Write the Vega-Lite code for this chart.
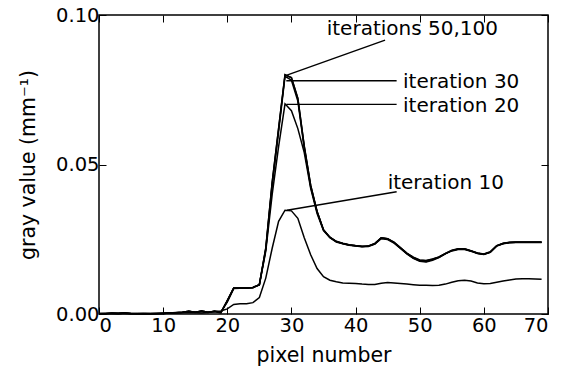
{
"$schema": "https://vega.github.io/schema/vega-lite/v6.json",
"width": 449, "height": 299,
"autosize": "none",
"padding": {"left": 99, "top": 15, "right": 22, "bottom": 53},
"background": "white",
"config": {
  "font": "DejaVu Sans",
  "view": {"stroke": "black", "strokeWidth": 1.5},
  "axis": {"grid": false, "domain": false, "tickColor": "black", "tickSize": -7, "tickWidth": 1, "labelColor": "black", "labelFont": "DejaVu Sans", "labelFontSize": 19.5, "titleFont": "DejaVu Sans", "titleFontSize": 20.5, "titleFontWeight": "normal", "titleColor": "black"}
},
"datasets": {
"curves": [
{"p":0,"v":0.0002,"it":"10"},{"p":1,"v":0.0002,"it":"10"},{"p":2,"v":0.0003,"it":"10"},{"p":3,"v":0.0003,"it":"10"},{"p":4,"v":0.0004,"it":"10"},{"p":5,"v":0.0002,"it":"10"},{"p":6,"v":0.0001,"it":"10"},{"p":7,"v":0.0001,"it":"10"},{"p":8,"v":0.0002,"it":"10"},{"p":9,"v":0.0001,"it":"10"},{"p":10,"v":0.0002,"it":"10"},{"p":11,"v":0.0003,"it":"10"},{"p":12,"v":0.0003,"it":"10"},{"p":13,"v":0.0004,"it":"10"},{"p":14,"v":0.0005,"it":"10"},{"p":15,"v":0.0004,"it":"10"},{"p":16,"v":0.0003,"it":"10"},{"p":17,"v":0.0005,"it":"10"},{"p":18,"v":0.0008,"it":"10"},{"p":19,"v":0.001,"it":"10"},{"p":20,"v":0.0017,"it":"10"},{"p":21,"v":0.0032,"it":"10"},{"p":22,"v":0.0034,"it":"10"},{"p":23,"v":0.0034,"it":"10"},{"p":24,"v":0.0038,"it":"10"},{"p":25,"v":0.0055,"it":"10"},{"p":26,"v":0.012,"it":"10"},{"p":27,"v":0.022,"it":"10"},{"p":28,"v":0.031,"it":"10"},{"p":29,"v":0.0347,"it":"10"},{"p":30,"v":0.0345,"it":"10"},{"p":31,"v":0.032,"it":"10"},{"p":32,"v":0.0255,"it":"10"},{"p":33,"v":0.0198,"it":"10"},{"p":34,"v":0.0152,"it":"10"},{"p":35,"v":0.0125,"it":"10"},{"p":36,"v":0.0113,"it":"10"},{"p":37,"v":0.0108,"it":"10"},{"p":38,"v":0.0104,"it":"10"},{"p":39,"v":0.0103,"it":"10"},{"p":40,"v":0.0102,"it":"10"},{"p":41,"v":0.01,"it":"10"},{"p":42,"v":0.0099,"it":"10"},{"p":43,"v":0.0099,"it":"10"},{"p":44,"v":0.0103,"it":"10"},{"p":45,"v":0.0105,"it":"10"},{"p":46,"v":0.0104,"it":"10"},{"p":47,"v":0.0102,"it":"10"},{"p":48,"v":0.01,"it":"10"},{"p":49,"v":0.0098,"it":"10"},{"p":50,"v":0.0096,"it":"10"},{"p":51,"v":0.0096,"it":"10"},{"p":52,"v":0.0095,"it":"10"},{"p":53,"v":0.0096,"it":"10"},{"p":54,"v":0.01,"it":"10"},{"p":55,"v":0.0106,"it":"10"},{"p":56,"v":0.0111,"it":"10"},{"p":57,"v":0.0113,"it":"10"},{"p":58,"v":0.011,"it":"10"},{"p":59,"v":0.0104,"it":"10"},{"p":60,"v":0.0101,"it":"10"},{"p":61,"v":0.0102,"it":"10"},{"p":62,"v":0.0106,"it":"10"},{"p":63,"v":0.011,"it":"10"},{"p":64,"v":0.0114,"it":"10"},{"p":65,"v":0.0117,"it":"10"},{"p":66,"v":0.0118,"it":"10"},{"p":67,"v":0.0118,"it":"10"},{"p":68,"v":0.0117,"it":"10"},{"p":69,"v":0.0116,"it":"10"},

{"p":0,"v":0.0002,"it":"20"},{"p":1,"v":0.0001,"it":"20"},{"p":2,"v":0.0003,"it":"20"},{"p":3,"v":0.0002,"it":"20"},{"p":4,"v":0.0002,"it":"20"},{"p":5,"v":0.0001,"it":"20"},{"p":6,"v":0.0002,"it":"20"},{"p":7,"v":0.0002,"it":"20"},{"p":8,"v":0.0001,"it":"20"},{"p":9,"v":0.0002,"it":"20"},{"p":10,"v":0.0003,"it":"20"},{"p":11,"v":0.0003,"it":"20"},{"p":12,"v":0.0005,"it":"20"},{"p":13,"v":0.0005,"it":"20"},{"p":14,"v":0.0008,"it":"20"},{"p":15,"v":0.0007,"it":"20"},{"p":16,"v":0.0008,"it":"20"},{"p":17,"v":0.0005,"it":"20"},{"p":18,"v":0.0009,"it":"20"},{"p":19,"v":0.0007,"it":"20"},{"p":20,"v":0.004,"it":"20"},{"p":21,"v":0.0085,"it":"20"},{"p":22,"v":0.0086,"it":"20"},{"p":23,"v":0.0086,"it":"20"},{"p":24,"v":0.0088,"it":"20"},{"p":25,"v":0.0097,"it":"20"},{"p":26,"v":0.021,"it":"20"},{"p":27,"v":0.04,"it":"20"},{"p":28,"v":0.056,"it":"20"},{"p":29,"v":0.0703,"it":"20"},{"p":30,"v":0.068,"it":"20"},{"p":31,"v":0.062,"it":"20"},{"p":32,"v":0.054,"it":"20"},{"p":33,"v":0.042,"it":"20"},{"p":34,"v":0.0336,"it":"20"},{"p":35,"v":0.0279,"it":"20"},{"p":36,"v":0.0255,"it":"20"},{"p":37,"v":0.0241,"it":"20"},{"p":38,"v":0.0235,"it":"20"},{"p":39,"v":0.023,"it":"20"},{"p":40,"v":0.0227,"it":"20"},{"p":41,"v":0.0225,"it":"20"},{"p":42,"v":0.0226,"it":"20"},{"p":43,"v":0.0234,"it":"20"},{"p":44,"v":0.0252,"it":"20"},{"p":45,"v":0.0249,"it":"20"},{"p":46,"v":0.0237,"it":"20"},{"p":47,"v":0.0219,"it":"20"},{"p":48,"v":0.0201,"it":"20"},{"p":49,"v":0.0186,"it":"20"},{"p":50,"v":0.0176,"it":"20"},{"p":51,"v":0.0174,"it":"20"},{"p":52,"v":0.018,"it":"20"},{"p":53,"v":0.0189,"it":"20"},{"p":54,"v":0.0201,"it":"20"},{"p":55,"v":0.0211,"it":"20"},{"p":56,"v":0.0216,"it":"20"},{"p":57,"v":0.0216,"it":"20"},{"p":58,"v":0.021,"it":"20"},{"p":59,"v":0.0202,"it":"20"},{"p":60,"v":0.0199,"it":"20"},{"p":61,"v":0.0206,"it":"20"},{"p":62,"v":0.0227,"it":"20"},{"p":63,"v":0.0235,"it":"20"},{"p":64,"v":0.0238,"it":"20"},{"p":65,"v":0.0239,"it":"20"},{"p":66,"v":0.0239,"it":"20"},{"p":67,"v":0.0239,"it":"20"},{"p":68,"v":0.0239,"it":"20"},{"p":69,"v":0.0239,"it":"20"},

{"p":0,"v":0.0001,"it":"30"},{"p":1,"v":0.0001,"it":"30"},{"p":2,"v":0.0002,"it":"30"},{"p":3,"v":0.0002,"it":"30"},{"p":4,"v":0.0002,"it":"30"},{"p":5,"v":0.0001,"it":"30"},{"p":6,"v":0.0002,"it":"30"},{"p":7,"v":0.0001,"it":"30"},{"p":8,"v":0.0002,"it":"30"},{"p":9,"v":0.0002,"it":"30"},{"p":10,"v":0.0002,"it":"30"},{"p":11,"v":0.0004,"it":"30"},{"p":12,"v":0.0004,"it":"30"},{"p":13,"v":0.0006,"it":"30"},{"p":14,"v":0.0009,"it":"30"},{"p":15,"v":0.0005,"it":"30"},{"p":16,"v":0.001,"it":"30"},{"p":17,"v":0.0006,"it":"30"},{"p":18,"v":0.0008,"it":"30"},{"p":19,"v":0.0004,"it":"30"},{"p":20,"v":0.0044,"it":"30"},{"p":21,"v":0.0086,"it":"30"},{"p":22,"v":0.0087,"it":"30"},{"p":23,"v":0.0087,"it":"30"},{"p":24,"v":0.0089,"it":"30"},{"p":25,"v":0.0098,"it":"30"},{"p":26,"v":0.0215,"it":"30"},{"p":27,"v":0.043,"it":"30"},{"p":28,"v":0.061,"it":"30"},{"p":29,"v":0.0795,"it":"30"},{"p":30,"v":0.0782,"it":"30"},{"p":31,"v":0.0712,"it":"30"},{"p":32,"v":0.0555,"it":"30"},{"p":33,"v":0.0425,"it":"30"},{"p":34,"v":0.0342,"it":"30"},{"p":35,"v":0.0281,"it":"30"},{"p":36,"v":0.0256,"it":"30"},{"p":37,"v":0.0242,"it":"30"},{"p":38,"v":0.0236,"it":"30"},{"p":39,"v":0.0231,"it":"30"},{"p":40,"v":0.0228,"it":"30"},{"p":41,"v":0.0226,"it":"30"},{"p":42,"v":0.0227,"it":"30"},{"p":43,"v":0.0235,"it":"30"},{"p":44,"v":0.0255,"it":"30"},{"p":45,"v":0.0252,"it":"30"},{"p":46,"v":0.0239,"it":"30"},{"p":47,"v":0.022,"it":"30"},{"p":48,"v":0.0202,"it":"30"},{"p":49,"v":0.0187,"it":"30"},{"p":50,"v":0.0178,"it":"30"},{"p":51,"v":0.0176,"it":"30"},{"p":52,"v":0.0182,"it":"30"},{"p":53,"v":0.019,"it":"30"},{"p":54,"v":0.0202,"it":"30"},{"p":55,"v":0.0212,"it":"30"},{"p":56,"v":0.0217,"it":"30"},{"p":57,"v":0.0217,"it":"30"},{"p":58,"v":0.0211,"it":"30"},{"p":59,"v":0.0203,"it":"30"},{"p":60,"v":0.02,"it":"30"},{"p":61,"v":0.0207,"it":"30"},{"p":62,"v":0.0228,"it":"30"},{"p":63,"v":0.0236,"it":"30"},{"p":64,"v":0.0239,"it":"30"},{"p":65,"v":0.024,"it":"30"},{"p":66,"v":0.024,"it":"30"},{"p":67,"v":0.024,"it":"30"},{"p":68,"v":0.024,"it":"30"},{"p":69,"v":0.024,"it":"30"},

{"p":0,"v":0.0001,"it":"50"},{"p":1,"v":0.0002,"it":"50"},{"p":2,"v":0.0002,"it":"50"},{"p":3,"v":0.0001,"it":"50"},{"p":4,"v":0.0003,"it":"50"},{"p":5,"v":0.0002,"it":"50"},{"p":6,"v":0.0001,"it":"50"},{"p":7,"v":0.0002,"it":"50"},{"p":8,"v":0.0001,"it":"50"},{"p":9,"v":0.0002,"it":"50"},{"p":10,"v":0.0002,"it":"50"},{"p":11,"v":0.0003,"it":"50"},{"p":12,"v":0.0004,"it":"50"},{"p":13,"v":0.0006,"it":"50"},{"p":14,"v":0.0009,"it":"50"},{"p":15,"v":0.0006,"it":"50"},{"p":16,"v":0.001,"it":"50"},{"p":17,"v":0.0006,"it":"50"},{"p":18,"v":0.0009,"it":"50"},{"p":19,"v":0.0005,"it":"50"},{"p":20,"v":0.0045,"it":"50"},{"p":21,"v":0.0087,"it":"50"},{"p":22,"v":0.0087,"it":"50"},{"p":23,"v":0.0087,"it":"50"},{"p":24,"v":0.0089,"it":"50"},{"p":25,"v":0.0098,"it":"50"},{"p":26,"v":0.022,"it":"50"},{"p":27,"v":0.044,"it":"50"},{"p":28,"v":0.062,"it":"50"},{"p":29,"v":0.08,"it":"50"},{"p":30,"v":0.079,"it":"50"},{"p":31,"v":0.072,"it":"50"},{"p":32,"v":0.056,"it":"50"},{"p":33,"v":0.043,"it":"50"},{"p":34,"v":0.0342,"it":"50"},{"p":35,"v":0.0281,"it":"50"},{"p":36,"v":0.0256,"it":"50"},{"p":37,"v":0.0242,"it":"50"},{"p":38,"v":0.0236,"it":"50"},{"p":39,"v":0.0231,"it":"50"},{"p":40,"v":0.0228,"it":"50"},{"p":41,"v":0.0226,"it":"50"},{"p":42,"v":0.0227,"it":"50"},{"p":43,"v":0.0235,"it":"50"},{"p":44,"v":0.0254,"it":"50"},{"p":45,"v":0.0251,"it":"50"},{"p":46,"v":0.0239,"it":"50"},{"p":47,"v":0.0221,"it":"50"},{"p":48,"v":0.0203,"it":"50"},{"p":49,"v":0.0189,"it":"50"},{"p":50,"v":0.018,"it":"50"},{"p":51,"v":0.0178,"it":"50"},{"p":52,"v":0.0183,"it":"50"},{"p":53,"v":0.019,"it":"50"},{"p":54,"v":0.0202,"it":"50"},{"p":55,"v":0.0212,"it":"50"},{"p":56,"v":0.0217,"it":"50"},{"p":57,"v":0.0217,"it":"50"},{"p":58,"v":0.0211,"it":"50"},{"p":59,"v":0.0203,"it":"50"},{"p":60,"v":0.02,"it":"50"},{"p":61,"v":0.0207,"it":"50"},{"p":62,"v":0.0228,"it":"50"},{"p":63,"v":0.0236,"it":"50"},{"p":64,"v":0.0239,"it":"50"},{"p":65,"v":0.024,"it":"50"},{"p":66,"v":0.024,"it":"50"},{"p":67,"v":0.024,"it":"50"},{"p":68,"v":0.024,"it":"50"},{"p":69,"v":0.024,"it":"50"},

{"p":0,"v":0.0001,"it":"100"},{"p":1,"v":0.0002,"it":"100"},{"p":2,"v":0.0002,"it":"100"},{"p":3,"v":0.0001,"it":"100"},{"p":4,"v":0.0003,"it":"100"},{"p":5,"v":0.0002,"it":"100"},{"p":6,"v":0.0001,"it":"100"},{"p":7,"v":0.0002,"it":"100"},{"p":8,"v":0.0001,"it":"100"},{"p":9,"v":0.0002,"it":"100"},{"p":10,"v":0.0002,"it":"100"},{"p":11,"v":0.0003,"it":"100"},{"p":12,"v":0.0004,"it":"100"},{"p":13,"v":0.0006,"it":"100"},{"p":14,"v":0.0009,"it":"100"},{"p":15,"v":0.0006,"it":"100"},{"p":16,"v":0.001,"it":"100"},{"p":17,"v":0.0006,"it":"100"},{"p":18,"v":0.0009,"it":"100"},{"p":19,"v":0.0005,"it":"100"},{"p":20,"v":0.0045,"it":"100"},{"p":21,"v":0.0087,"it":"100"},{"p":22,"v":0.0087,"it":"100"},{"p":23,"v":0.0087,"it":"100"},{"p":24,"v":0.0089,"it":"100"},{"p":25,"v":0.0098,"it":"100"},{"p":26,"v":0.022,"it":"100"},{"p":27,"v":0.044,"it":"100"},{"p":28,"v":0.062,"it":"100"},{"p":29,"v":0.0801,"it":"100"},{"p":30,"v":0.0791,"it":"100"},{"p":31,"v":0.0722,"it":"100"},{"p":32,"v":0.0562,"it":"100"},{"p":33,"v":0.0431,"it":"100"},{"p":34,"v":0.0343,"it":"100"},{"p":35,"v":0.0282,"it":"100"},{"p":36,"v":0.0257,"it":"100"},{"p":37,"v":0.0243,"it":"100"},{"p":38,"v":0.0237,"it":"100"},{"p":39,"v":0.0232,"it":"100"},{"p":40,"v":0.0229,"it":"100"},{"p":41,"v":0.0227,"it":"100"},{"p":42,"v":0.0228,"it":"100"},{"p":43,"v":0.0236,"it":"100"},{"p":44,"v":0.0255,"it":"100"},{"p":45,"v":0.0252,"it":"100"},{"p":46,"v":0.024,"it":"100"},{"p":47,"v":0.0222,"it":"100"},{"p":48,"v":0.0204,"it":"100"},{"p":49,"v":0.019,"it":"100"},{"p":50,"v":0.0181,"it":"100"},{"p":51,"v":0.0179,"it":"100"},{"p":52,"v":0.0184,"it":"100"},{"p":53,"v":0.0191,"it":"100"},{"p":54,"v":0.0203,"it":"100"},{"p":55,"v":0.0213,"it":"100"},{"p":56,"v":0.0218,"it":"100"},{"p":57,"v":0.0218,"it":"100"},{"p":58,"v":0.0212,"it":"100"},{"p":59,"v":0.0204,"it":"100"},{"p":60,"v":0.0201,"it":"100"},{"p":61,"v":0.0208,"it":"100"},{"p":62,"v":0.0229,"it":"100"},{"p":63,"v":0.0237,"it":"100"},{"p":64,"v":0.024,"it":"100"},{"p":65,"v":0.0241,"it":"100"},{"p":66,"v":0.0241,"it":"100"},{"p":67,"v":0.0241,"it":"100"},{"p":68,"v":0.0241,"it":"100"},{"p":69,"v":0.0241,"it":"100"}
],
"notes": [
{"label":"iterations 50,100","px":29.3,"py":0.0799,"lx":44.6,"ly":0.0916,"tx":35.5,"ty":0.0952},
{"label":"iteration 30","px":29.2,"py":0.078,"lx":46.4,"ly":0.078,"tx":47.4,"ty":0.0777},
{"label":"iteration 20","px":29.2,"py":0.0701,"lx":46.4,"ly":0.0701,"tx":47.4,"ty":0.0696},
{"label":"iteration 10","px":29.3,"py":0.0347,"lx":46.4,"ly":0.0409,"tx":45.0,"ty":0.0437}
]
},
"layer": [
{
 "data": {"name": "curves"},
 "mark": {"type": "line", "color": "black", "strokeWidth": 1.5},
 "encoding": {
  "x": {"field": "p", "type": "quantitative", "scale": {"domain": [0, 70], "nice": false, "zero": false},
        "axis": {"values": [0,10,20,30,40,50,60,70], "format": "d", "labelPadding": 9, "title": "pixel number", "titleX": 224.5, "titleY": 41, "titleBaseline": "middle", "titleAlign": "center"}},
  "y": {"field": "v", "type": "quantitative", "scale": {"domain": [0, 0.1], "nice": false},
        "axis": {"values": [0, 0.05, 0.1], "format": ".2f", "labelPadding": 7, "title": "gray value (mm⁻¹)", "titleX": -71, "titleY": 149.5, "titleAngle": -90, "titleBaseline": "middle", "titleAlign": "center"}},
  "detail": {"field": "it", "type": "nominal"}
 }
},
{
 "data": {"name": "notes"},
 "mark": {"type": "rule", "color": "black", "strokeWidth": 1.4},
 "encoding": {
  "x": {"field": "px", "type": "quantitative", "axis": null},
  "y": {"field": "py", "type": "quantitative", "axis": null},
  "x2": {"field": "lx"},
  "y2": {"field": "ly"}
 }
},
{
 "data": {"name": "notes"},
 "mark": {"type": "text", "align": "left", "baseline": "middle", "fontSize": 20, "font": "DejaVu Sans", "color": "black"},
 "encoding": {
  "x": {"field": "tx", "type": "quantitative", "axis": null},
  "y": {"field": "ty", "type": "quantitative", "axis": null},
  "text": {"field": "label", "type": "nominal"}
 }
},
{
 "data": {"name": "notes"},
 "mark": {"type": "point", "opacity": 0},
 "encoding": {
  "x": {"field": "tx", "type": "quantitative", "axis": {"orient": "top", "values": [0,10,20,30,40,50,60,70], "labels": false, "title": null}},
  "y": {"field": "ty", "type": "quantitative", "axis": {"orient": "right", "values": [0, 0.05, 0.1], "labels": false, "title": null}}
 }
}
],
"resolve": {"axis": {"x": "independent", "y": "independent"}}
}
